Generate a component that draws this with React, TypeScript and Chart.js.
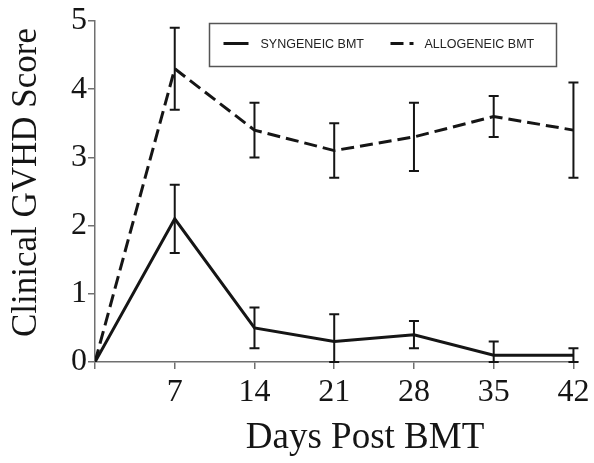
import React, { useEffect, useRef } from 'react';
import { Chart, registerables } from 'chart.js';

Chart.register(...registerables);

const DAYS = [0, 7, 14, 21, 28, 35, 42];
const SYN_MEAN = [0, 2.1, 0.5, 0.3, 0.4, 0.1, 0.1];
const SYN_ERR = [0, 0.5, 0.3, 0.4, 0.2, 0.2, 0.1];
const ALLO_MEAN = [0, 4.3, 3.4, 3.1, 3.3, 3.6, 3.4];
const ALLO_ERR = [0, 0.6, 0.4, 0.4, 0.5, 0.3, 0.7];
const X_TICKS = [0, 7, 14, 21, 28, 35, 42];
const Y_MIN = 0;
const Y_MAX = 5;
const X_MAX = 42.4;
const SERIES_LABELS = ['SYNGENEIC BMT', 'ALLOGENEIC BMT'];
const X_TITLE = 'Days Post BMT';
const Y_TITLE = 'Clinical GVHD Score';

const W = 594;
const H = 463;
const AXIS_COLOR = '#707070';
const INK = '#151515';
const SERIF = '"Liberation Serif", "Times New Roman", serif';
const SANS = '"Liberation Sans", Arial, sans-serif';
const DASH = [13, 6];

const errorBars = {
  id: 'errorBars',
  afterDatasetsDraw(chart: any) {
    const { ctx, scales } = chart;
    const x = scales.x;
    const y = scales.y;
    ctx.save();
    ctx.strokeStyle = INK;
    ctx.lineWidth = 2;
    ctx.setLineDash([]);
    chart.data.datasets.forEach((ds: any) => {
      ds.data.forEach((p: any, i: number) => {
        const e = ds.errors[i];
        if (!e) return;
        const px = x.getPixelForValue(p.x);
        const top = y.getPixelForValue(p.y + e);
        const bot = y.getPixelForValue(Math.max(Y_MIN, p.y - e));
        const cap = 5;
        ctx.beginPath();
        ctx.moveTo(px, top);
        ctx.lineTo(px, bot);
        ctx.moveTo(px - cap, top);
        ctx.lineTo(px + cap, top);
        ctx.moveTo(px - cap, bot);
        ctx.lineTo(px + cap, bot);
        ctx.stroke();
      });
    });
    ctx.restore();
  },
};

const titlesAndLegend = {
  id: 'titlesAndLegend',
  afterDraw(chart: any) {
    const { ctx, chartArea } = chart;
    ctx.save();
    // axis titles
    ctx.fillStyle = INK;
    ctx.textAlign = 'center';
    ctx.textBaseline = 'alphabetic';
    ctx.font = `37px ${SERIF}`;
    ctx.fillText(X_TITLE, chartArea.left + 270, 448);
    ctx.save();
    ctx.translate(36, (chartArea.top + chartArea.bottom) / 2 - 9);
    ctx.rotate(-Math.PI / 2);
    ctx.font = `35px ${SERIF}`;
    ctx.fillText(Y_TITLE, 0, 0);
    ctx.restore();

    // legend box
    const bx = chartArea.left + 114.5;
    const by = chartArea.top + 2.5;
    ctx.strokeStyle = '#555';
    ctx.lineWidth = 1.5;
    ctx.strokeRect(bx, by, 347, 43);
    const ly = by + 20;
    const items = [
      { x0: bx + 14, x1: bx + 39, tx: bx + 51, dash: [] as number[] },
      { x0: bx + 181, x1: bx + 204, tx: bx + 215, dash: DASH },
    ];
    ctx.font = `12.5px ${SANS}`;
    ctx.textAlign = 'left';
    ctx.textBaseline = 'middle';
    items.forEach((it, i) => {
      ctx.strokeStyle = INK;
      ctx.lineWidth = 3;
      ctx.setLineDash(it.dash);
      ctx.beginPath();
      ctx.moveTo(it.x0, ly);
      ctx.lineTo(it.x1, ly);
      ctx.stroke();
      ctx.setLineDash([]);
      ctx.fillStyle = '#222';
      ctx.fillText(SERIES_LABELS[i], it.tx, ly + 1);
    });
    ctx.restore();
  },
};

export default function App() {
  const ref = useRef<HTMLCanvasElement>(null);
  useEffect(() => {
    if (!ref.current) return;
    const chart = new Chart(ref.current, {
      type: 'line',
      data: {
        datasets: [
          {
            label: SERIES_LABELS[0],
            data: DAYS.map((d, i) => ({ x: d, y: SYN_MEAN[i] })),
            errors: SYN_ERR,
            borderColor: INK,
            borderWidth: 3,
            pointRadius: 0,
            tension: 0,
            fill: false,
          } as any,
          {
            label: SERIES_LABELS[1],
            data: DAYS.map((d, i) => ({ x: d, y: ALLO_MEAN[i] })),
            errors: ALLO_ERR,
            borderColor: INK,
            borderWidth: 3,
            borderDash: DASH,
            pointRadius: 0,
            tension: 0,
            fill: false,
          } as any,
        ],
      },
      options: {
        responsive: false,
        animation: false,
        devicePixelRatio: 1,
        layout: { padding: { left: 0, top: 21, right: 16, bottom: 0 } },
        plugins: { legend: { display: false }, tooltip: { enabled: false } },
        scales: {
          x: {
            type: 'linear',
            min: 0,
            max: X_MAX,
            afterFit: (s: any) => {
              s.height = H - 362;
            },
            afterBuildTicks: (s: any) => {
              s.ticks = X_TICKS.map((v) => ({ value: v }));
            },
            ticks: {
              padding: 4,
              color: INK,
              font: { family: SERIF, size: 32 },
              maxRotation: 0,
              autoSkip: false,
              callback: (v: any) => (v === 0 ? '' : String(v)),
            },
            grid: {
              drawOnChartArea: false,
              drawTicks: true,
              tickLength: 7,
              color: AXIS_COLOR,
              lineWidth: 1.5,
            },
            border: { display: true, color: AXIS_COLOR, width: 1.5 },
          },
          y: {
            type: 'linear',
            min: Y_MIN,
            max: Y_MAX,
            afterFit: (s: any) => {
              s.width = 95;
            },
            ticks: {
              stepSize: 1,
              padding: 1,
              color: INK,
              font: { family: SERIF, size: 32 },
            },
            grid: {
              drawOnChartArea: false,
              drawTicks: true,
              tickLength: 7,
              color: AXIS_COLOR,
              lineWidth: 1.5,
            },
            border: { display: true, color: AXIS_COLOR, width: 1.5 },
          },
        },
      } as any,
      plugins: [errorBars, titlesAndLegend],
    });
    return () => chart.destroy();
  }, []);
  return (
    <div style={{ position: 'fixed', left: 0, top: 0, width: W, height: H, background: '#fff' }}>
      <canvas ref={ref} width={W} height={H} style={{ display: 'block' }} />
    </div>
  );
}
